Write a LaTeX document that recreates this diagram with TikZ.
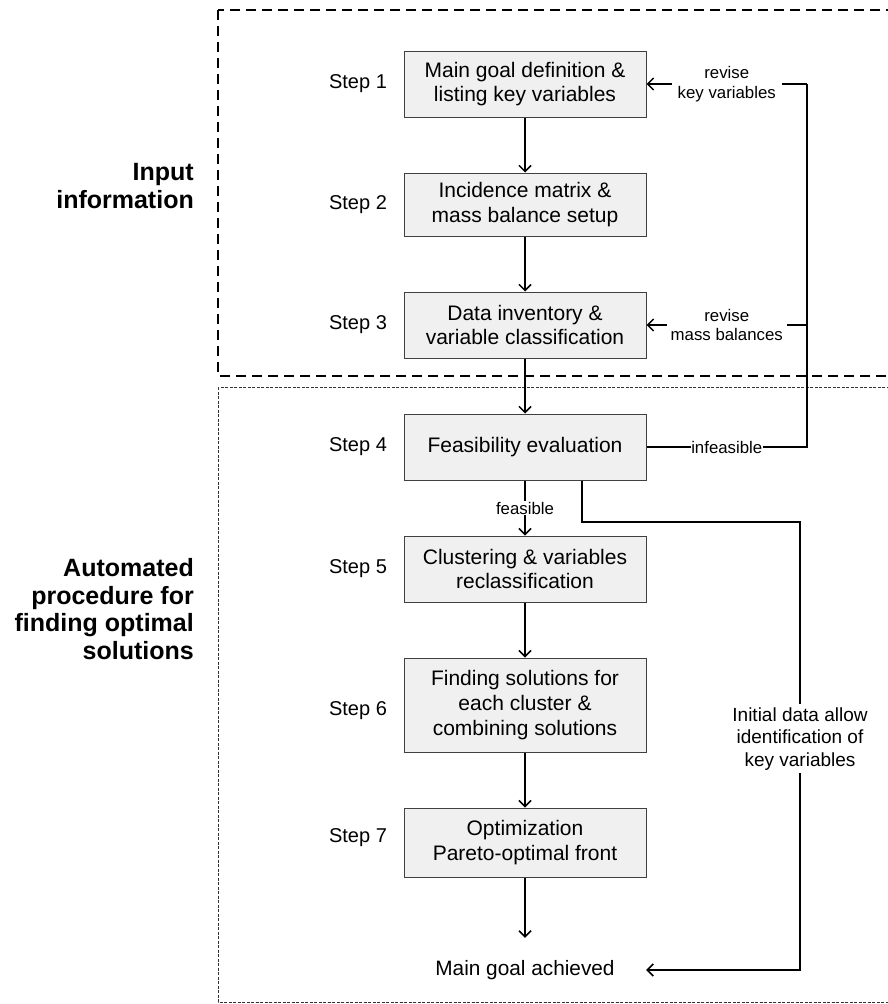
\documentclass[tikz,border=0pt]{standalone}
\usepackage{fontspec}
\setmainfont{Liberation Sans}
\usetikzlibrary{arrows.meta}
\begin{document}
\begin{tikzpicture}[x=1pt,y=-1pt,
  box/.style={draw=black!75, line width=1pt, fill=black!6, minimum width=242pt, inner sep=0pt, align=center, font=\fontsize{21}{24.5}\selectfont},
  steplabel/.style={font=\fontsize{20}{24}\selectfont},
  small/.style={font=\fontsize{16.8}{19.5}\selectfont, align=center, fill=white, inner sep=2pt},
  heading/.style={font=\bfseries\fontsize{25}{27.5}\selectfont, align=right, anchor=east, inner sep=0pt},
  flow/.style={line width=1.5pt, -{Straight Barb[length=6pt,width=12pt,line width=1.5pt]}},
  link/.style={line width=1.5pt}]
\clip (0,0) rectangle (888,1004);
\fill[white] (0,0) rectangle (888,1004);
\draw[line width=1.4pt, dash pattern=on 10pt off 6pt] (218,10) rectangle (895,376);
\draw[line width=0.8pt, black!80, dash pattern=on 3pt off 1.5pt] (218,387) rectangle (895,1002);

\node[heading] (h1) at (194,186) {Input\\information};
\node[heading] (h2) at (194,609) {Automated\\procedure for\\finding optimal\\solutions};

\node[box, minimum height=66pt] (b1) at (525,84) {Main goal definition \&\\listing key variables};
\node[box, minimum height=63pt] (b2) at (525,204.5) {Incidence matrix \&\\mass balance setup};
\node[box, minimum height=66pt] (b3) at (525,325) {Data inventory \&\\variable classification};
\node[box, minimum height=66pt] (b4) at (525,447) {Feasibility evaluation};
\node[box, minimum height=66pt] (b5) at (525,569) {Clustering \& variables\\reclassification};
\node[box, minimum height=94pt, font=\fontsize{21}{25}\selectfont] (b6) at (525,705) {Finding solutions for\\each cluster \&\\combining solutions};
\node[box, minimum height=69pt] (b7) at (525,842.5) {Optimization\\Pareto-optimal front};
\node[minimum width=242pt, minimum height=64pt, inner sep=0pt, font=\fontsize{20.8}{24}\selectfont] (goal) at (525,970) {Main goal achieved};

\node[steplabel] (s1) at (358,84) {Step 1};
\node[steplabel] (s2) at (358,204.5) {Step 2};
\node[steplabel] (s3) at (358,325) {Step 3};
\node[steplabel] (s4) at (358,447) {Step 4};
\node[steplabel] (s5) at (358,569) {Step 5};
\node[steplabel] (s6) at (358,711) {Step 6};
\node[steplabel] (s7) at (358,838) {Step 7};

\draw[flow] (b1) -- (b2);
\draw[flow] (b2) -- (b3);
\draw[flow] (b3) -- (b4);
\draw[flow] (b4) -- node[small, inner sep=1pt] {feasible} (b5);
\draw[flow] (b5) -- (b6);
\draw[flow] (b6) -- (b7);
\draw[flow] (b7) -- (goal);

\coordinate (r1) at (807,84);
\coordinate (r3) at (807,325);
\coordinate (r4) at (807,447);
\draw[link] (b4.east) -- node[small, inner sep=0.5pt] {infeasible} (r4) -- (r1);
\draw[flow] (r1) -- node[small, inner xsep=6pt] {revise\\key variables} (b1.east);
\draw[flow] (r3) -- node[small, inner xsep=4pt] {revise\\mass balances} (b3.east);

\coordinate (k1) at (582,522);
\coordinate (k2) at (800,522);
\coordinate (k3) at (800,970);
\draw[flow] (b4.south -| k1) -- (k1) -- (k2) -- node[pos=0.484, small, font=\fontsize{19}{22.5}\selectfont, inner xsep=1pt, inner ysep=3pt] {Initial data allow\\identification of\\key variables} (k3) -- (goal.east);
\end{tikzpicture}
\end{document}
